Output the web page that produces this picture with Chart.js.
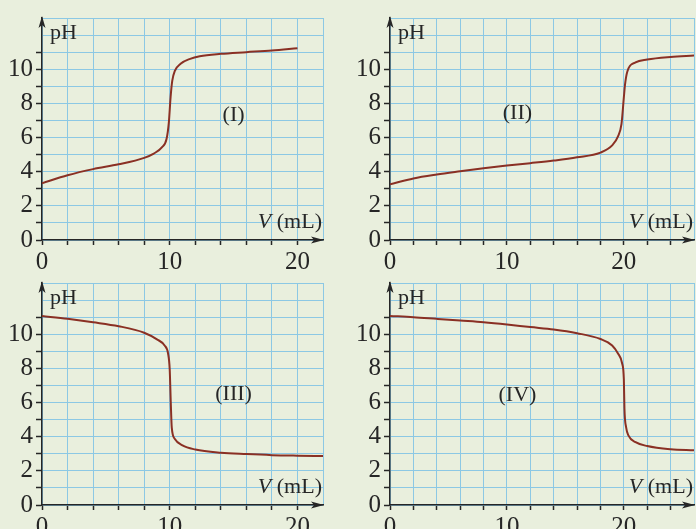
<!DOCTYPE html>
<html><head><meta charset="utf-8">
<script src="https://cdn.jsdelivr.net/npm/chart.js@4"></script>
<style>
html,body{margin:0;padding:0;background:#e9efdd;}
body{width:696px;height:529px;position:relative;overflow:hidden;font-family:"Liberation Serif","Times New Roman",serif;}
.p{position:absolute;}
.pre{position:absolute;left:-1000px;top:0;font-family:"Liberation Serif";}
.pre i{font-style:italic;}
</style></head><body>
<div class="pre">pH 0123456789 <i>V</i> (mL)</div>
<div class="p" style="left:0;top:0;width:348px;height:285px"><canvas id="c1"></canvas></div>
<div class="p" style="left:348px;top:0;width:348px;height:285px"><canvas id="c2"></canvas></div>
<div class="p" style="left:0;top:265px;width:348px;height:264px"><canvas id="c3"></canvas></div>
<div class="p" style="left:348px;top:265px;width:348px;height:264px"><canvas id="c4"></canvas></div>
<script>
// Curve (I)
const volI = [0, 2, 4, 6, 8, 8.75, 9.4, 9.75, 9.93, 10.07, 10.2, 10.4, 10.85, 11.6, 12.35, 14, 16, 18, 20];
const phI  = [3.32, 3.79, 4.15, 4.43, 4.81, 5.06, 5.44, 5.91, 6.87, 8.39, 9.33, 9.9, 10.32, 10.61, 10.76, 10.9, 11.0, 11.1, 11.23];
// Curve (II)
const volII = [0, 2, 4, 6, 8, 10, 12, 14, 16, 18, 19, 19.5, 19.8, 20, 20.1, 20.3, 21, 22, 24, 26];
const phII  = [3.26, 3.6, 3.83, 4.02, 4.2, 4.36, 4.5, 4.65, 4.84, 5.12, 5.54, 6.07, 6.8, 8.35, 9.1, 9.87, 10.4, 10.57, 10.72, 10.8];
// Curve (III)
const volIII = [0, 2, 4, 6, 8, 9, 9.6, 9.87, 10, 10.08, 10.16, 10.4, 11, 12, 14, 16, 18, 20, 22];
const phIII  = [11.07, 10.9, 10.7, 10.47, 10.09, 9.7, 9.34, 8.87, 7.92, 6.04, 4.53, 3.87, 3.49, 3.25, 3.06, 2.98, 2.92, 2.89, 2.87];
// Curve (IV)
const volIV = [0, 2, 4, 6, 8, 10, 12, 14, 16, 18, 19, 19.5, 19.85, 20, 20.05, 20.2, 20.4, 21, 22, 24, 26];
const phIV  = [11.07, 11.0, 10.9, 10.8, 10.7, 10.57, 10.42, 10.28, 10.06, 9.72, 9.34, 8.87, 8.3, 7.36, 5.66, 4.53, 4.06, 3.68, 3.45, 3.26, 3.2];

const xMaxes = [22, 26, 22, 26];
const yMax = 13;
const romanLabels = ['(I)', '(II)', '(III)', '(IV)'];
const romanPosX = [15, 10.9, 15, 10.9];
const romanPosY = [7.3, 7.4, 6.5, 6.4];
const yAxisTitle = 'pH';
const xAxisTitleVar = 'V';
const xAxisTitleUnit = ' (mL)';

const INK = '#262626';
const GRID = '#8cc8e4';
const CURVE = '#8a3024';
const SERIF = '"Liberation Serif", "Times New Roman", serif';

const deco = {
  id: 'deco',
  afterDraw(chart, args, o) {
    const ctx = chart.ctx, ca = chart.chartArea;
    ctx.save();
    ctx.fillStyle = INK;
    // y arrow
    ctx.beginPath();
    ctx.moveTo(ca.left, ca.top - 2);
    ctx.lineTo(ca.left - 3.5, ca.top + 10);
    ctx.lineTo(ca.left, ca.top + 7);
    ctx.lineTo(ca.left + 3.5, ca.top + 10);
    ctx.closePath(); ctx.fill();
    // x arrow
    ctx.beginPath();
    ctx.moveTo(ca.right + 1, ca.bottom);
    ctx.lineTo(ca.right - 12, ca.bottom - 3.5);
    ctx.lineTo(ca.right - 9, ca.bottom);
    ctx.lineTo(ca.right - 12, ca.bottom + 3.5);
    ctx.closePath(); ctx.fill();
    // pH
    ctx.font = '22px ' + SERIF;
    ctx.textAlign = 'left'; ctx.textBaseline = 'alphabetic';
    ctx.fillText(yAxisTitle, ca.left + 8, ca.top + 21);
    // V (mL)
    ctx.font = '22px ' + SERIF;
    const wUnit = ctx.measureText(xAxisTitleUnit).width;
    ctx.font = 'italic 22px ' + SERIF;
    const wV = ctx.measureText(xAxisTitleVar).width;
    const x0 = ca.right - 1 - wUnit - wV;
    ctx.fillText(xAxisTitleVar, x0, ca.bottom - 12);
    ctx.font = '22px ' + SERIF;
    ctx.fillText(xAxisTitleUnit, x0 + wV, ca.bottom - 12);
    // roman label
    ctx.textAlign = 'center'; ctx.textBaseline = 'middle';
    ctx.font = '22px ' + SERIF;
    ctx.fillText(o.label, chart.scales.x.getPixelForValue(o.lx), chart.scales.y.getPixelForValue(o.ly));
    ctx.restore();
  }
};

function makeChart(id, vols, phs, idx, padTop, padRight, xHeight, padBottom) {
  const xMax = xMaxes[idx];
  return new Chart(document.getElementById(id), {
    type: 'line',
    data: { datasets: [{
      data: vols.map((v, i) => ({ x: v, y: phs[i] })),
      borderColor: CURVE, borderWidth: 2, pointRadius: 0,
      cubicInterpolationMode: 'monotone', fill: false
    }]},
    options: {
      responsive: true, maintainAspectRatio: false, animation: false,
      layout: { padding: { left: 0, right: padRight, top: padTop, bottom: padBottom } },
      plugins: { legend: { display: false }, tooltip: { enabled: false },
        deco: { label: romanLabels[idx], lx: romanPosX[idx], ly: romanPosY[idx] } },
      scales: {
        x: {
          type: 'linear', min: 0, max: xMax,
          ticks: { stepSize: 2, autoSkip: false, maxRotation: 0, padding: 2,
            callback: v => (v % 10 === 0 ? String(v) : ''),
            font: { family: SERIF, size: 25 }, color: INK },
          grid: { color: GRID, lineWidth: 1, tickLength: 5, tickWidth: 1.5,
            tickColor: c => (c.tick && c.tick.value >= xMax) ? 'rgba(0,0,0,0)' : INK },
          border: { color: INK, width: 1.5 },
          afterFit: s => { s.height = xHeight; }
        },
        y: {
          min: 0, max: yMax,
          ticks: { stepSize: 1, autoSkip: false, padding: 3,
            callback: v => ((v % 2 === 0 && v <= 10) ? String(v) : ''),
            font: { family: SERIF, size: 25 }, color: INK },
          grid: { color: GRID, lineWidth: 1, tickLength: 6, tickWidth: 1.5,
            tickColor: c => (c.tick && c.tick.value > 11) ? 'rgba(0,0,0,0)' : INK },
          border: { color: INK, width: 1.5 },
          afterFit: s => { s.width = 42; }
        }
      }
    },
    plugins: [deco]
  });
}

function build() {
  makeChart('c1', volI, phI, 0, 12, 25, 40, 5);
  makeChart('c2', volII, phII, 1, 12, 2, 40, 5);
  makeChart('c3', volIII, phIII, 2, 11, 25, 24, 0);
  makeChart('c4', volIV, phIV, 3, 11, 2, 24, 0);
}
Promise.all([
  document.fonts.load('25px "Liberation Serif"'),
  document.fonts.load('italic 22px "Liberation Serif"')
]).then(build, build);
</script>
</body></html>
